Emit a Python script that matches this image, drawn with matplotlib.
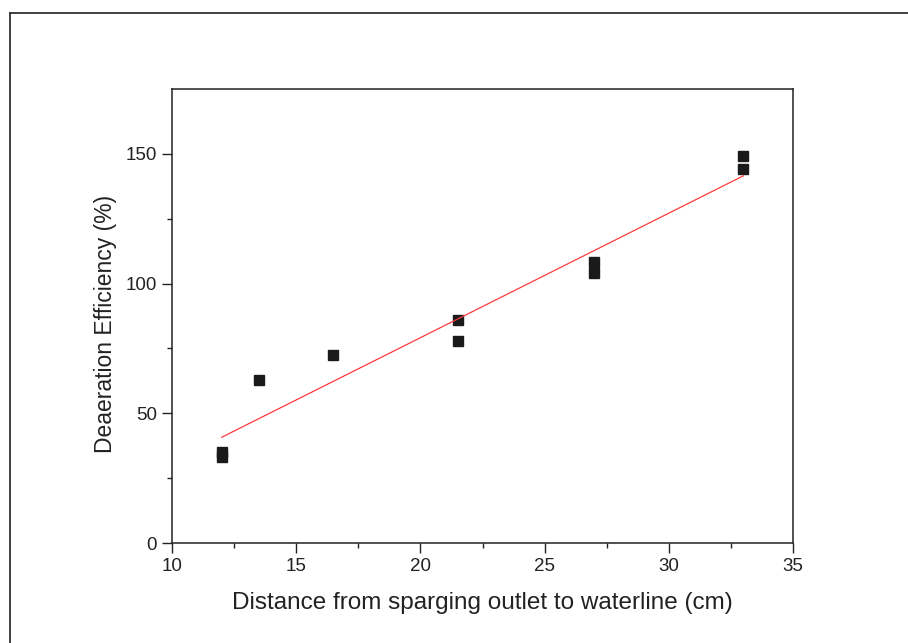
import numpy as np
import matplotlib
matplotlib.use("Agg")
import matplotlib.pyplot as plt
from matplotlib.lines import Line2D

# Data
distance_cm = [12, 12, 13.5, 16.5, 21.5, 21.5, 27, 27, 33, 33]
efficiency_pct = [33, 35, 63, 72.5, 86, 78, 108.5, 104, 149, 144]
x_ticks = [10, 15, 20, 25, 30, 35]
y_ticks = [0, 50, 100, 150]
x_label = "Distance from sparging outlet to waterline (cm)"
y_label = "Deaeration Efficiency (%)"

plt.rcParams['font.family'] = ['Liberation Sans', 'DejaVu Sans']

fig = plt.figure(figsize=(9.08, 6.43), dpi=100)
ax = fig.add_axes([172/908, 1-543/643, (793-172)/908, (543-89)/643])

ax.plot(distance_cm, efficiency_pct, linestyle='none', marker='s',
        markersize=7.5, color='#1a1a1a', markeredgecolor='#1a1a1a')

slope, intercept = np.polyfit(distance_cm, efficiency_pct, 1)
xf = np.array([min(distance_cm), max(distance_cm)])
ax.plot(xf, slope*xf + intercept, color='#ff3b3b', linewidth=0.9)

ax.set_xlim(10, 35)
ax.set_ylim(0, 175)
ax.set_xticks(x_ticks)
ax.set_yticks(y_ticks)
ax.set_xticks(np.arange(12.5, 35, 5), minor=True)
ax.set_yticks(np.arange(25, 175, 50), minor=True)

for s in ax.spines.values():
    s.set_linewidth(1.1)
    s.set_color('#222222')
ax.tick_params(which='major', direction='out', length=7.0, width=1.0,
               labelsize=13.5, colors='#222222', pad=4)
ax.tick_params(which='minor', direction='out', length=3.6, width=1.0, colors='#222222')

ax.set_xlabel(x_label, fontsize=17.5, color='#222222', labelpad=12)
ax.set_ylabel(y_label, fontsize=16.5, color='#222222')
ax.yaxis.set_label_coords(-0.089, 0.482)

# outer frame (top and left edges)
fig.add_artist(Line2D([10/908, 1.0], [1-13/643, 1-13/643], transform=fig.transFigure,
                      color='#333333', linewidth=1.3))
fig.add_artist(Line2D([10/908, 10/908], [0.0, 1-13/643], transform=fig.transFigure,
                      color='#333333', linewidth=1.3))

fig.savefig('out.png', dpi=100)
